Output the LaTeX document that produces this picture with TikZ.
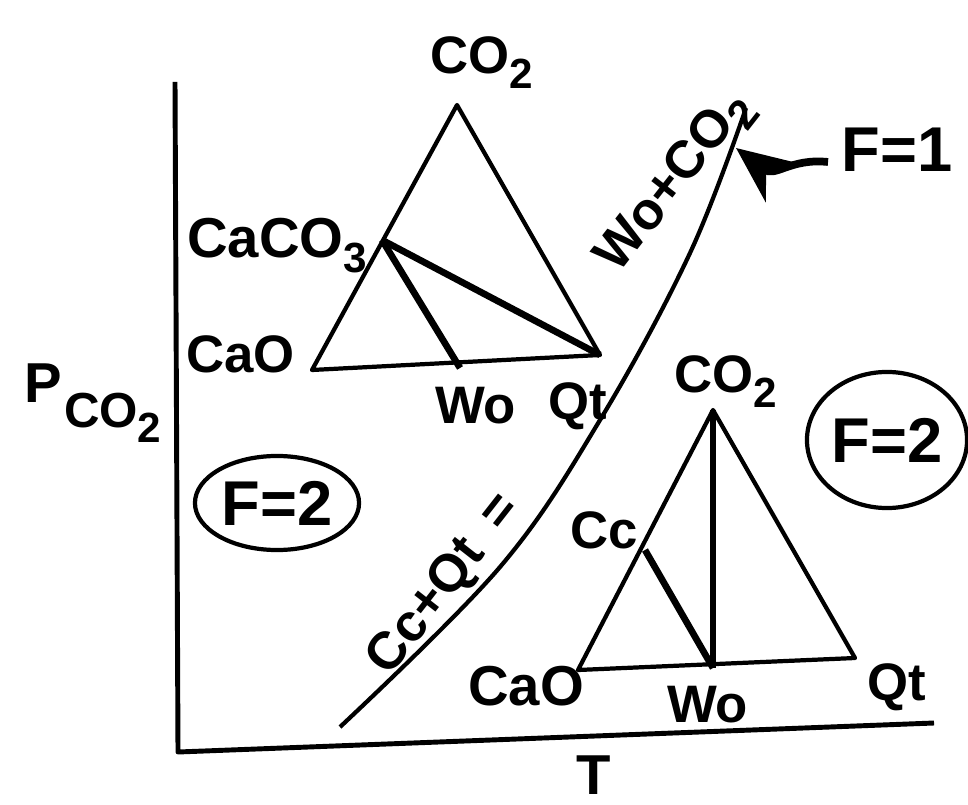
\documentclass[tikz,border=0pt]{standalone}
\usepackage{fontspec}
\setmainfont{Liberation Sans}
\usetikzlibrary{shapes.geometric,arrows.meta}

\newcommand{\tief}[1]{\raisebox{-4pt}{\fontsize{12}{12}\selectfont #1}}

\begin{document}
\begin{tikzpicture}[x=0.01cm, y=-0.01cm, line width=1.2pt, line join=round,
  lbl/.style={font=\bfseries\fontsize{15}{16}\selectfont, inner sep=0pt, anchor=base west},
  fgrad/.style={draw, ellipse, font=\bfseries\fontsize{18}{19}\selectfont, inner sep=0pt},
  dick/.style={line width=1.9pt}]

\useasboundingbox (0,0) rectangle (968,804);

% Achsen
\coordinate (pende) at (175,82);
\coordinate (ursprung) at (178,752);
\coordinate (tende) at (934,723);
\draw[line width=1.4pt] (pende) -- (ursprung) -- (tende);
\node[lbl, font=\bfseries\fontsize{16}{17}\selectfont] (tachse) at (574,794) {T};
\node[lbl, font=\bfseries\fontsize{16}{17}\selectfont] (pachse) at (22,403) {P};
\node[lbl, font=\bfseries\fontsize{14}{15}\selectfont] (pindex) at (62,428) {CO\tief{2}};

% Gleichgewichtskurve Cc+Qt = Wo+CO2
\coordinate (kunten) at (340,727);
\coordinate (koben) at (746,108);
\draw (kunten) plot[smooth, tension=0.6] coordinates
  {(340,727) (500,567) (600,420) (690,253) (746,108)};
\node[lbl, anchor=center, rotate=52] (reaktlinks) at (445,585) {Cc+Qt\enspace=};
\node[lbl, anchor=center, rotate=52] (reaktrechts) at (676,183) {Wo+CO\tief{2}};

% F=1 mit Pfeil auf die Kurve
\node[font=\bfseries\fontsize{18}{19}\selectfont, inner sep=0pt] (fkurve) at (897,150) {F=1};
\coordinate (pfeilende) at (828,162);
\coordinate (pfeilspitze) at (736,148);
\draw[-{Stealth[length=16pt, width=14pt]}, line width=2.2pt]
  (pfeilende) .. controls (790,158) and (775,178) .. (pfeilspitze);

% oberes Dreieck (tiefe Temperatur)
\coordinate (oCO2) at (457,105);
\coordinate (oCaO) at (312,370);
\coordinate (oQt) at (600,355);
\coordinate (oCc) at (382,240);
\coordinate (oWo) at (460,368);
\draw (oCaO) -- (oCO2) -- (oQt) -- cycle;
\draw[dick] (oCc) -- (oWo);
\draw[dick] (oCc) -- (oQt);
\node[lbl] (oCO2l) at (428,74) {CO\tief{2}};
\node[lbl, font=\bfseries\fontsize{16}{17}\selectfont] (oCcl) at (185,258) {CaCO\tief{3}};
\node[lbl] (oCaOl) at (184,373) {CaO};
\node[lbl] (oWol) at (433,423) {Wo};
\node[lbl] (oQtl) at (546,420) {Qt};

% unteres Dreieck (hohe Temperatur)
\coordinate (uCO2) at (713,410);
\coordinate (uCaO) at (578,670);
\coordinate (uQt) at (855,658);
\coordinate (uCc) at (645,550);
\coordinate (uWo) at (713,668);
\draw (uCaO) -- (uCO2) -- (uQt) -- cycle;
\draw[dick] (uCc) -- (uWo);
\draw[dick] (uCO2) -- (uWo);
\node[lbl] (uCO2l) at (672,393) {CO\tief{2}};
\node[lbl] (uCcl) at (568,548) {Cc};
\node[lbl, font=\bfseries\fontsize{16}{17}\selectfont] (uCaOl) at (466,705) {CaO};
\node[lbl] (uWol) at (665,722) {Wo};
\node[lbl] (uQtl) at (865,700) {Qt};

% Freiheitsgrade in den Feldern
\node[fgrad, minimum width=1.64cm, minimum height=0.94cm] (flinks) at (277,503) {F=2};
\node[fgrad, minimum width=1.6cm, minimum height=1.36cm] (frechts) at (887,440) {F=2};

\end{tikzpicture}
\end{document}
